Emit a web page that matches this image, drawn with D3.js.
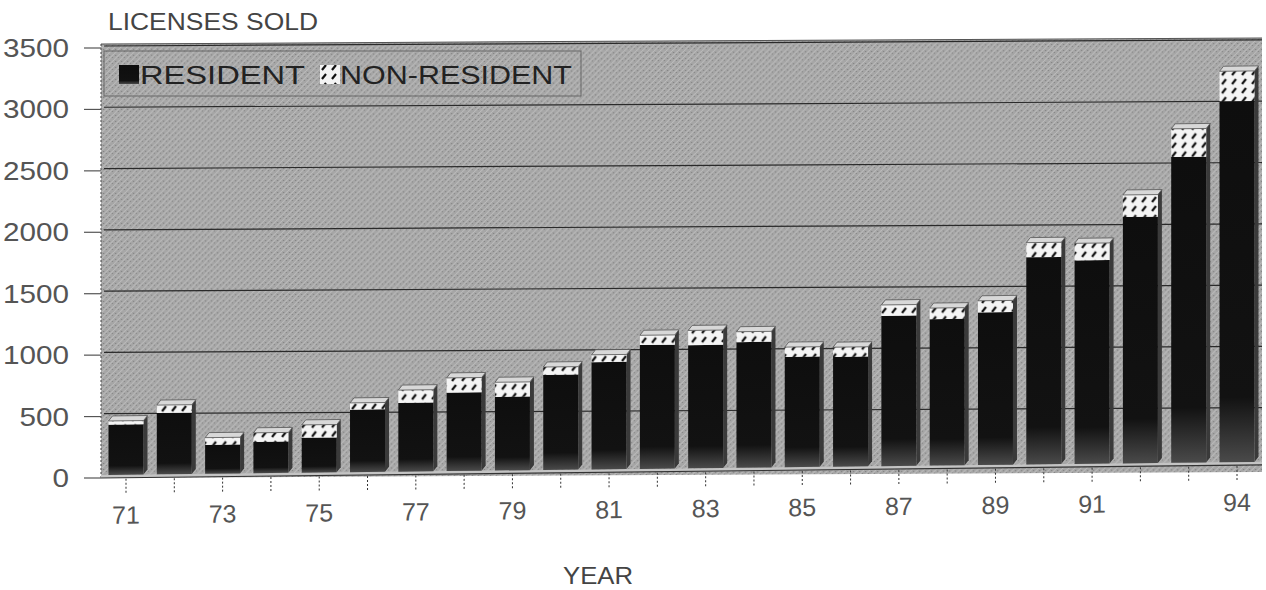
<!DOCTYPE html>
<html>
<head>
<meta charset="utf-8">
<script src="https://cdn.jsdelivr.net/npm/d3@7"></script>
<style>
  html, body { margin: 0; padding: 0; background: #fff; }
  svg { display: block; }
  text { font-family: "Liberation Sans", Arial, sans-serif; }
</style>
</head>
<body>
<svg id="chart" width="1266" height="590"></svg>
<script>
// ---- data ----
const years = ["71","72","73","74","75","76","77","78","79","80","81","82",
               "83","84","85","86","87","88","89","90","91","92","93","94"];
const resident    = [410, 500, 235, 255, 285, 510, 560, 640, 600, 775, 875, 1010,
                     1005, 1025, 900, 895, 1225, 1195, 1245, 1690, 1660, 2010, 2495, 2945];
const nonResident = [30, 65, 60, 75, 105, 55, 105, 120, 120, 65, 60, 80,
                     120, 85, 80, 80, 90, 90, 95, 120, 140, 180, 230, 245];
const xTickLabels = ["71","73","75","77","79","81","83","85","87","89","91","94"];
const yTicks = [0, 500, 1000, 1500, 2000, 2500, 3000, 3500];
const seriesNames = ["RESIDENT", "NON-RESIDENT"];

// ---- layout ----
const svg = d3.select("#chart");
const x = d3.scalePoint().domain(years).range([126, 1237]);
const barW = 35;
const y  = d3.scaleLinear().domain([0, 3500]).range([475, 46]);   // back wall / bars
const yF = d3.scaleLinear().domain([0, 3500]).range([478, 48]);   // front axis labels
const depthX = 4, depthY = -5;

const defs = svg.append("defs");
const wall = defs.append("pattern").attr("id", "wall").attr("patternUnits", "userSpaceOnUse")
  .attr("width", 6).attr("height", 6);
wall.append("rect").attr("width", 6).attr("height", 6).attr("fill", "#a6a6a6");
wall.append("path").attr("d", "M0,6 L6,0").attr("stroke", "#bdbdbd").attr("stroke-width", 1);
wall.append("rect").attr("x", 1).attr("y", 1).attr("width", 1).attr("height", 1).attr("fill", "#777");
wall.append("rect").attr("x", 4).attr("y", 3).attr("width", 1).attr("height", 1).attr("fill", "#7a7a7a");
const hatch = defs.append("pattern").attr("id", "hatch").attr("patternUnits", "userSpaceOnUse")
  .attr("width", 10).attr("height", 9);
hatch.append("rect").attr("width", 10).attr("height", 9).attr("fill", "#f4f4f4");
hatch.append("path").attr("d", "M2,7 L6,2").attr("stroke", "#111").attr("stroke-width", 2.2);
const grad = defs.append("linearGradient").attr("id", "resGrad")
  .attr("x1", 0).attr("y1", 0).attr("x2", 0).attr("y2", 1);
grad.append("stop").attr("offset", "0%").attr("stop-color", "#0e0e0e");
grad.append("stop").attr("offset", "82%").attr("stop-color", "#121212");
grad.append("stop").attr("offset", "100%").attr("stop-color", "#4a4a4a");

// ---- title ----
svg.append("text").attr("x", 108).attr("y", 30).attr("font-size", 24).attr("fill", "#444")
  .attr("textLength", 210).attr("lengthAdjust", "spacingAndGlyphs").text("LICENSES SOLD");

// ---- wall group (gentle slope) ----
const gw = svg.append("g").attr("transform", "translate(101,0) skewY(-0.3) translate(-101,0)");
gw.append("rect").attr("x", 101).attr("y", y(3500) - 2).attr("width", 1262 - 101)
  .attr("height", yF(0) - y(3500) + 2).attr("fill", "url(#wall)");
gw.append("line").attr("x1", 101).attr("x2", 1262).attr("y1", y(3500) - 2).attr("y2", y(3500) - 2)
  .attr("stroke", "#555").attr("stroke-width", 1);
gw.selectAll(".grid").data(yTicks.filter(d => d > 0)).join("line")
  .attr("x1", 104).attr("x2", 1262).attr("y1", d => y(d)).attr("y2", d => y(d))
  .attr("stroke", "#2a2a2a").attr("stroke-width", 1.2);
gw.append("line").attr("x1", 101).attr("x2", 101).attr("y1", y(3500) - 2).attr("y2", yF(0))
  .attr("stroke", "#444").attr("stroke-dasharray", "2,2");

// ---- floor & bars group ----
const g = svg.append("g").attr("transform", "translate(101,0) skewY(-0.65) translate(-101,0)");
g.append("rect").attr("x", 101).attr("y", y(0)).attr("width", 1262 - 101).attr("height", yF(0) - y(0))
  .attr("fill", "#c4c4c4");
g.append("line").attr("x1", 101).attr("x2", 1262).attr("y1", yF(0)).attr("y2", yF(0))
  .attr("stroke", "#333").attr("stroke-width", 1.2);

const rows = years.map((yr, i) => ({ yr, r: resident[i], n: nonResident[i] }));
const bars = g.selectAll(".bar").data(rows).join("g").attr("class", "bar");
bars.append("path").attr("d", d => {
  const x1 = x(d.yr) + barW / 2, t = y(d.r + d.n), b = y(0);
  return `M${x1},${t} L${x1 + depthX},${t + depthY} L${x1 + depthX},${b + depthY} L${x1},${b} Z`;
}).attr("fill", "#3a3a3a");
bars.append("rect").attr("x", d => x(d.yr) - barW / 2).attr("width", barW)
  .attr("y", d => y(d.r)).attr("height", d => y(0) - y(d.r)).attr("fill", "url(#resGrad)");
bars.append("rect").attr("x", d => x(d.yr) - barW / 2).attr("width", barW)
  .attr("y", d => y(d.r + d.n)).attr("height", d => y(d.r) - y(d.r + d.n))
  .attr("fill", "url(#hatch)");
bars.append("path").attr("d", d => {
  const x0 = x(d.yr) - barW / 2, x1 = x(d.yr) + barW / 2, t = y(d.r + d.n);
  return `M${x0},${t} L${x0 + depthX},${t + depthY} L${x1 + depthX},${t + depthY} L${x1},${t} Z`;
}).attr("fill", "#d8d8d8").attr("stroke", "#555").attr("stroke-width", 0.8);

g.selectAll(".xt").data(years).join("line")
  .attr("x1", d => x(d)).attr("x2", d => x(d)).attr("y1", yF(0) + 1).attr("y2", yF(0) + 17)
  .attr("stroke", "#333").attr("stroke-dasharray", "2,2");
g.selectAll(".xl").data(xTickLabels).join("text")
  .attr("x", d => x(d)).attr("y", yF(0) + 46).attr("text-anchor", "middle")
  .attr("font-size", 25).attr("fill", "#555").text(d => d);

// ---- y axis (front) ----
svg.selectAll(".yt").data(yTicks).join("line")
  .attr("x1", 84).attr("x2", 101).attr("y1", d => yF(d)).attr("y2", d => yF(d))
  .attr("stroke", "#555").attr("stroke-width", 1.2);
svg.selectAll(".yl").data(yTicks).join("text")
  .attr("x", 69).attr("y", d => yF(d) + 9).attr("text-anchor", "end")
  .attr("font-size", 25).attr("fill", "#555")
  .attr("textLength", d => String(d).length * 16.5).attr("lengthAdjust", "spacingAndGlyphs")
  .text(d => d);

// ---- legend ----
const lg = svg.append("g");
lg.append("rect").attr("x", 104).attr("y", 51).attr("width", 477).attr("height", 45)
  .attr("fill", "none").attr("stroke", "#666").attr("stroke-width", 1);
const items = [
  { name: seriesNames[0], fill: "url(#resGrad)", sx: 119, tx: 140, len: 165 },
  { name: seriesNames[1], fill: "url(#hatch)",  sx: 320, tx: 340, len: 232 }
];
items.forEach(it => {
  lg.append("rect").attr("x", it.sx).attr("y", 65).attr("width", 20).attr("height", 19).attr("fill", it.fill);
  lg.append("text").attr("x", it.tx).attr("y", 84).attr("font-size", 25).attr("fill", "#222")
    .attr("textLength", it.len).attr("lengthAdjust", "spacingAndGlyphs").text(it.name);
});

// ---- x axis title ----
svg.append("text").attr("x", 598).attr("y", 584).attr("text-anchor", "middle")
  .attr("font-size", 24).attr("fill", "#444")
  .attr("textLength", 70).attr("lengthAdjust", "spacingAndGlyphs").text("YEAR");
</script>
</body>
</html>
